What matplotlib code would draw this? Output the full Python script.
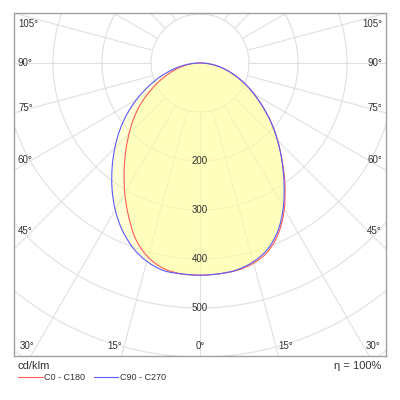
import numpy as np
import matplotlib
matplotlib.use("Agg")
import matplotlib.pyplot as plt
from matplotlib.path import Path
from matplotlib.patches import PathPatch

# ---- data (cd/klm) ----
gamma = [0, 5, 10, 15, 20, 25, 30, 35, 40, 45, 50, 55, 60, 65, 70, 75, 80, 85, 90]
c0   = [433, 432, 430, 423, 408, 381, 344, 302, 261, 224, 190, 157, 128, 102, 78, 56, 37, 18, 0]
c180 = [433, 432, 426, 410, 383, 345, 307, 270, 236, 205, 177, 149, 121, 95, 72, 52, 34, 17, 0]
c90  = [433, 432, 429, 420, 404, 377, 340, 299, 260, 224, 190, 157, 128, 102, 78, 56, 37, 18, 0]
c270 = [433, 432, 430, 419, 401, 376, 346, 313, 279, 246, 214, 182, 150, 119, 91, 65, 42, 20, 0]
ring_values = [100, 200, 300, 400, 500, 600, 700, 800]
ring_labels = [200, 300, 400, 500]
side_angles = [45, 60, 75, 90, 105]
bottom_angles = [0, 15, 30]
unit_label = "cd/klm"
eff_label = "\u03b7 = 100%"
legend_names = ["C0 - C180", "C90 - C270"]

RED = "#ff5a5a"
BLUE = "#5a5aff"
GRID = "#e0e0e0"
FILL = "#ffff99"
TXT = "#333333"

plt.rcParams['font.family'] = ['Liberation Sans', 'DejaVu Sans']

fig = plt.figure(figsize=(4, 4), dpi=100)
W = H = 400
L, R, T, B = 14, 386, 13, 356
cx, cy = 200, 63
s = 0.49  # px per cd/klm
ax = fig.add_axes([L / W, 1 - B / H, (R - L) / W, (B - T) / H])
ax.set_xlim((L - cx) / s, (R - cx) / s)
ax.set_ylim((cy - B) / s, (cy - T) / s)
ax.set_aspect('equal')
ax.set_xticks([]); ax.set_yticks([])
for sp in ax.spines.values():
    sp.set_color("#a0a0a0"); sp.set_linewidth(1.0)

def px(xp, yp):
    return (xp - cx) / s, (cy - yp) / s

# grid
t = np.linspace(0, 2 * np.pi, 361)
for r in ring_values:
    ax.plot(r * np.cos(t), r * np.sin(t), color=GRID, lw=0.8, zorder=1)
for a in range(0, 360, 15):
    ar = np.radians(a)
    ax.plot([100 * np.sin(ar), 900 * np.sin(ar)], [-100 * np.cos(ar), -900 * np.cos(ar)],
            color=GRID, lw=0.8, zorder=1)

def curve_path(right, left):
    g = np.radians(np.array(gamma, float))
    r1 = np.array(right, float); r2 = np.array(left, float)
    xr = r1 * np.sin(g); yr = -r1 * np.cos(g)
    xl = -r2 * np.sin(g); yl = -r2 * np.cos(g)
    x = np.concatenate([xl[::-1], xr[1:-1]])
    y = np.concatenate([yl[::-1], yr[1:-1]])
    P = np.column_stack([x, y])
    n = len(P)
    verts = [P[0]]
    codes = [Path.MOVETO]
    for i in range(n):
        p0 = P[(i - 1) % n]; p1 = P[i]; p2 = P[(i + 1) % n]; p3 = P[(i + 2) % n]
        c1 = p1 + (p2 - p0) / 6.0
        c2 = p2 - (p3 - p1) / 6.0
        verts += [c1, c2, p2]
        codes += [Path.CURVE4] * 3
    return Path(verts, codes)

p1 = curve_path(c0, c180)
p2 = curve_path(c90, c270)
ax.add_patch(PathPatch(p1, facecolor=FILL, alpha=0.4, lw=0, zorder=2))
ax.add_patch(PathPatch(p2, facecolor=FILL, alpha=0.4, lw=0, zorder=2))
ax.add_patch(PathPatch(p1, facecolor='none', edgecolor=RED, lw=0.8, zorder=3))
ax.add_patch(PathPatch(p2, facecolor='none', edgecolor=BLUE, lw=0.8, zorder=3))

fs = 7
for r in ring_labels:
    ax.text(0, -r, str(r), ha='center', va='center', fontsize=fs, color=TXT, zorder=4)

for a in side_angles:
    ar = np.radians(a)
    dxp = (cx - L) - 18
    ylab = cy + dxp / np.tan(ar) if a != 90 else cy
    ylab = max(ylab, T + 11)
    xl_, yl_ = px(L + 4, ylab)
    ax.text(xl_, yl_, f"{a}\u00b0", ha='left', va='center', fontsize=fs, color=TXT, zorder=4)
    xr_, yr_ = px(R - 4, ylab)
    ax.text(xr_, yr_, f"{a}\u00b0", ha='right', va='center', fontsize=fs, color=TXT, zorder=4)

ybp = 346
for a in bottom_angles:
    ar = np.radians(a)
    off = (ybp - cy) * np.tan(ar)
    if a == 0:
        xx, yy = px(cx, ybp)
        ax.text(xx, yy, f"{a}\u00b0", ha='center', va='center', fontsize=fs, color=TXT, zorder=4)
    else:
        xx, yy = px(cx - off - 2, ybp)
        ax.text(xx, yy, f"{a}\u00b0", ha='right', va='center', fontsize=fs, color=TXT, zorder=4)
        xx, yy = px(cx + off + 2, ybp)
        ax.text(xx, yy, f"{a}\u00b0", ha='left', va='center', fontsize=fs, color=TXT, zorder=4)

fig.text(18 / W, 1 - 366 / H, unit_label, ha='left', va='center', fontsize=8, color=TXT)
fig.text(381 / W, 1 - 366 / H, eff_label, ha='right', va='center', fontsize=8, color=TXT)
ly = 1 - 377 / H
fig.add_artist(plt.Line2D([18 / W, 43 / W], [ly, ly], color=RED, lw=0.8))
fig.text(44 / W, ly, legend_names[0], ha='left', va='center', fontsize=6.5, color=TXT)
fig.add_artist(plt.Line2D([94 / W, 118 / W], [ly, ly], color=BLUE, lw=0.8))
fig.text(120 / W, ly, legend_names[1], ha='left', va='center', fontsize=6.5, color=TXT)

fig.savefig("out.png", dpi=100, facecolor='white')
